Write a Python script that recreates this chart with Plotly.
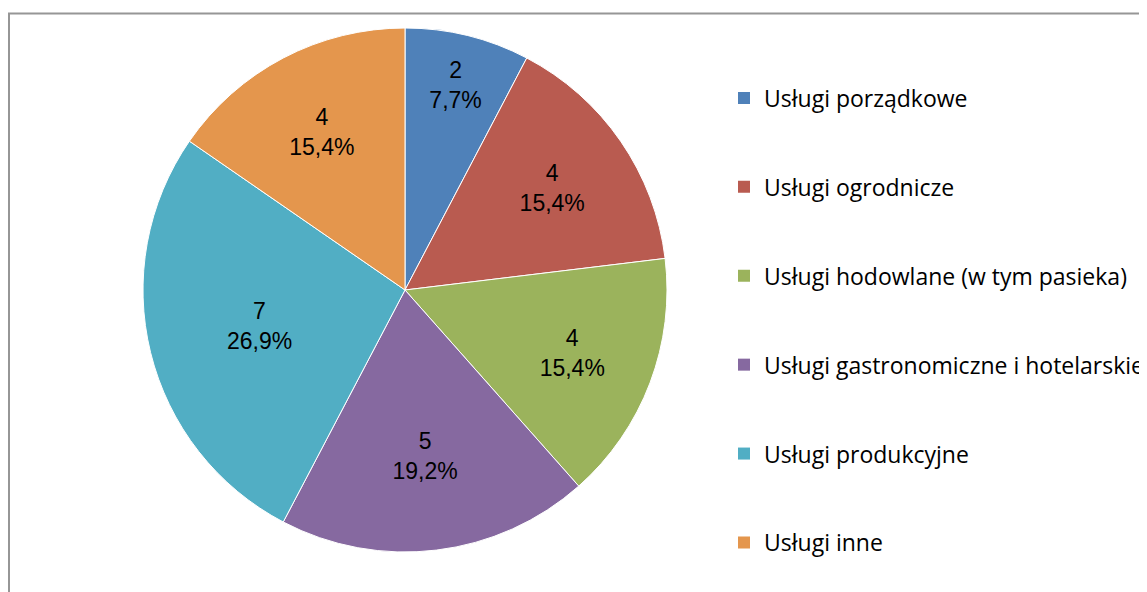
import plotly.graph_objects as go

categories = [
    "Usługi porządkowe",
    "Usługi ogrodnicze",
    "Usługi hodowlane (w tym pasieka)",
    "Usługi gastronomiczne i hotelarskie",
    "Usługi produkcyjne",
    "Usługi inne",
]
values = [2, 4, 4, 5, 7, 4]
colors = ["#4F81B9", "#B95B50", "#9BB35C", "#8669A0", "#51AEC4", "#E4964D"]

W, H = 1147, 592
# page body has an 8px margin, so positions are given in figure pixels
cx, cy, r = 397, 282, 262

fig = go.Figure()
fig.add_trace(go.Pie(
    labels=categories,
    values=values,
    sort=False,
    direction="clockwise",
    rotation=0,
    marker=dict(colors=colors, line=dict(color="white", width=1)),
    texttemplate="%{value}<br>%{percent:.1%}",
    textposition="inside",
    insidetextorientation="horizontal",
    textfont=dict(family="Liberation Sans, Arial", size=23, color="black"),
    showlegend=False,
    hoverinfo="label+value+percent",
    domain=dict(x=[(cx - r) / W, (cx + r) / W], y=[(H - cy - r) / H, (H - cy + r) / H]),
))

for name, col in zip(categories, colors):
    fig.add_trace(go.Scatter(
        x=[None], y=[None], mode="markers", name=name, legendgroup=name,
        marker=dict(symbol="square", size=12, color=col),
    ))

fig.update_layout(
    width=W, height=H,
    margin=dict(l=0, r=0, t=0, b=0),
    paper_bgcolor="white", plot_bgcolor="white",
    separators=", ",
    uniformtext=dict(minsize=23, mode="show"),
    xaxis=dict(visible=False), yaxis=dict(visible=False),
    legend=dict(
        x=716 / W, xanchor="left", y=1 - 68.5 / H, yanchor="top",
        font=dict(family="Open Sans, Noto Sans", size=23, color="black"),
        tracegroupgap=56, bgcolor="rgba(0,0,0,0)",
        itemclick=False, itemdoubleclick=False,
    ),
    shapes=[dict(type="rect", xref="paper", yref="paper",
                 x0=1 / W, x1=1.05, y0=-0.05, y1=1 - 5.5 / H,
                 line=dict(color="#969696", width=2), fillcolor="rgba(0,0,0,0)")],
)

fig.write_html("out.html")
